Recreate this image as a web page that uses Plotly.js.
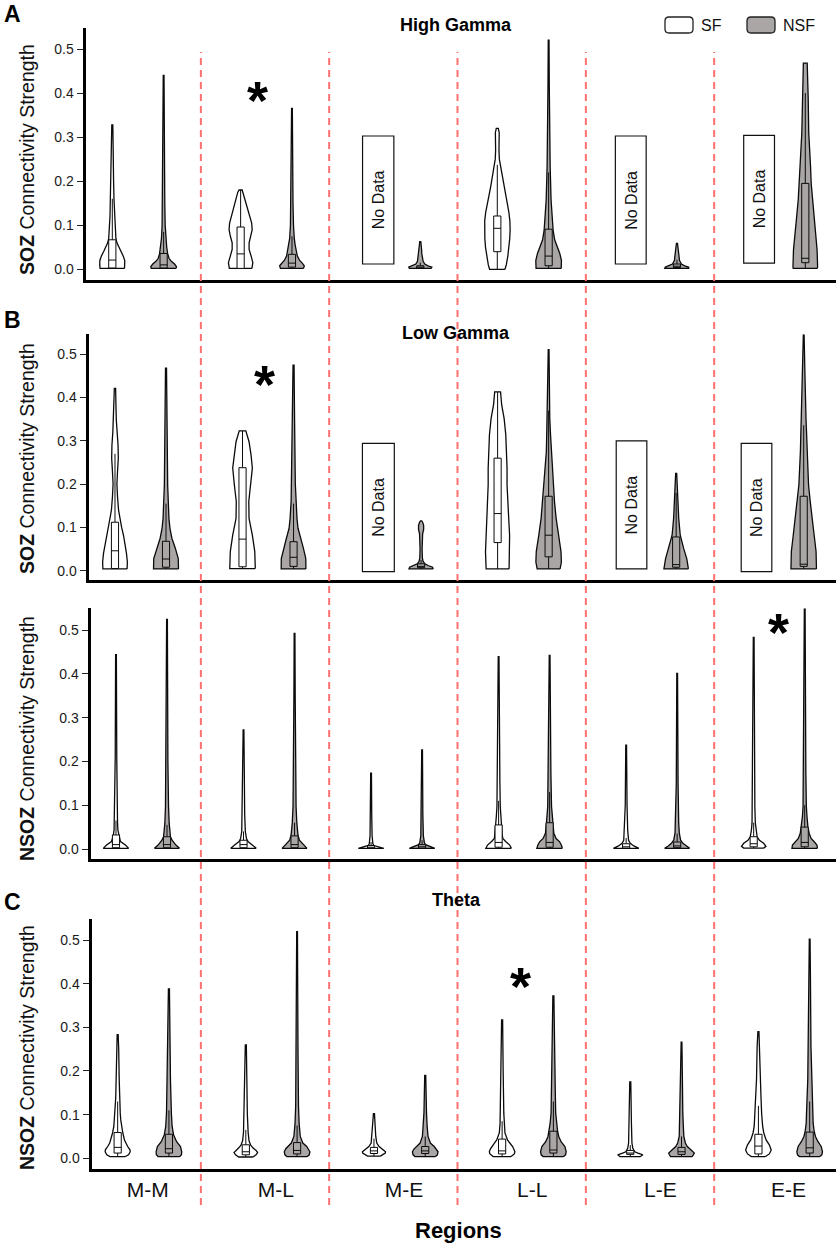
<!DOCTYPE html>
<html><head><meta charset="utf-8">
<script src="https://cdn.plot.ly/plotly-3.0.1.min.js"></script>
<style>html,body{margin:0;padding:0;background:#fff}#chart{width:837px;height:1243px}</style>
</head><body><div id="chart"></div>
<script>
// ---------------- DATA ----------------
const regions = ['M-M', 'M-L', 'M-E', 'L-L', 'L-E', 'E-E'];
const yTicks = [0, 0.1, 0.2, 0.3, 0.4, 0.5];
const yTickText = ['0.0', '0.1', '0.2', '0.3', '0.4', '0.5'];

// box statistics per region: [q1, median, q3, whiskerLow, whiskerHigh]; null = No Data
// violin outline per region: [[value, relative half-width], ...]

// A: High Gamma, SOZ
const hgSF_stats = [
  [0.003, 0.021, 0.067, 0.002, 0.16],
  [0.002, 0.035, 0.096, 0.002, 0.18],
  null,
  [0.04, 0.093, 0.121, 0.0, 0.237],
  null,
  null];
const hgSF_shape = [
  [[0.002,0.95],[0.01,0.98],[0.02,0.97],[0.03,0.85],[0.04,0.68],[0.05,0.5],[0.06,0.36],[0.07,0.28],[0.09,0.24],[0.12,0.18],[0.16,0.13],[0.2,0.1],[0.25,0.08],[0.3,0.06],[0.328,0.04]],
  [[0.002,0.88],[0.015,0.95],[0.03,0.82],[0.045,0.66],[0.06,0.66],[0.075,0.8],[0.09,0.9],[0.105,0.86],[0.12,0.72],[0.14,0.52],[0.16,0.36],[0.175,0.22],[0.18,0.12]],
  null,
  [[0.0,0.6],[0.01,0.7],[0.03,0.82],[0.05,0.92],[0.07,0.97],[0.09,1.0],[0.11,0.98],[0.13,0.9],[0.15,0.78],[0.17,0.63],[0.19,0.5],[0.21,0.38],[0.23,0.26],[0.25,0.16],[0.27,0.13],[0.29,0.13],[0.31,0.15],[0.32,0.08]],
  null,
  null];
const hgNSF_stats = [
  [0.003, 0.01, 0.036, 0.002, 0.085],
  [0.005, 0.014, 0.034, 0.002, 0.075],
  [0.003, 0.005, 0.008, 0.002, 0.015],
  [0.008, 0.03, 0.091, 0.002, 0.22],
  [0.004, 0.007, 0.012, 0.002, 0.022],
  [0.015, 0.025, 0.195, 0.002, 0.40]];
const hgNSF_shape = [
  [[0.002,0.97],[0.006,1.0],[0.012,0.85],[0.018,0.6],[0.025,0.42],[0.035,0.32],[0.05,0.24],[0.07,0.17],[0.1,0.12],[0.15,0.09],[0.2,0.07],[0.3,0.05],[0.44,0.03]],
  [[0.002,0.9],[0.008,0.96],[0.014,0.8],[0.02,0.6],[0.03,0.42],[0.04,0.33],[0.055,0.25],[0.07,0.18],[0.1,0.12],[0.15,0.08],[0.2,0.06],[0.3,0.04],[0.365,0.03]],
  [[0.002,0.85],[0.005,0.9],[0.008,0.6],[0.012,0.35],[0.018,0.22],[0.025,0.16],[0.035,0.12],[0.045,0.1],[0.055,0.07],[0.063,0.04]],
  [[0.002,0.98],[0.02,1.0],[0.036,0.87],[0.052,0.67],[0.067,0.47],[0.089,0.35],[0.12,0.27],[0.158,0.19],[0.233,0.12],[0.31,0.08],[0.42,0.05],[0.52,0.03]],
  [[0.002,0.95],[0.005,0.9],[0.008,0.6],[0.012,0.35],[0.02,0.2],[0.03,0.14],[0.045,0.1],[0.059,0.04]],
  [[0.002,0.94],[0.006,0.96],[0.044,0.92],[0.082,0.8],[0.12,0.67],[0.158,0.55],[0.195,0.46],[0.233,0.41],[0.31,0.27],[0.385,0.23],[0.44,0.18],[0.468,0.15]]];

// B: Low Gamma, SOZ
const lgSF_stats = [
  [0.005, 0.046, 0.112, 0.004, 0.27],
  [0.009, 0.073, 0.238, 0.005, 0.323],
  null,
  [0.065, 0.132, 0.26, 0.004, 0.413],
  null,
  null];
const lgSF_shape = [
  [[0.004,0.95],[0.02,0.97],[0.04,0.9],[0.06,0.8],[0.08,0.68],[0.1,0.52],[0.12,0.4],[0.14,0.28],[0.17,0.2],[0.2,0.15],[0.23,0.2],[0.26,0.26],[0.29,0.24],[0.32,0.17],[0.35,0.1],[0.39,0.07],[0.421,0.05]],
  [[0.005,1.0],[0.044,0.96],[0.082,0.77],[0.121,0.51],[0.16,0.49],[0.198,0.64],[0.237,0.77],[0.267,0.67],[0.298,0.51],[0.323,0.26]],
  null,
  [[0.004,0.9],[0.044,0.95],[0.082,0.94],[0.121,0.87],[0.16,0.79],[0.198,0.74],[0.237,0.74],[0.275,0.71],[0.314,0.64],[0.352,0.51],[0.383,0.32],[0.413,0.23]],
  null,
  null];
const lgNSF_stats = [
  [0.008, 0.027, 0.068, 0.004, 0.155],
  [0.01, 0.031, 0.067, 0.004, 0.155],
  [0.007, 0.01, 0.016, 0.004, 0.025],
  [0.032, 0.082, 0.172, 0.004, 0.37],
  [0.008, 0.014, 0.078, 0.004, 0.18],
  [0.01, 0.015, 0.172, 0.004, 0.336]];
const lgNSF_shape = [
  [[0.004,0.98],[0.028,0.96],[0.052,0.73],[0.075,0.46],[0.098,0.31],[0.121,0.23],[0.198,0.13],[0.35,0.08],[0.468,0.04]],
  [[0.004,0.97],[0.028,0.96],[0.052,0.77],[0.075,0.56],[0.098,0.35],[0.121,0.27],[0.16,0.19],[0.2,0.14],[0.35,0.08],[0.475,0.04]],
  [[0.004,0.95],[0.008,0.9],[0.012,0.55],[0.016,0.3],[0.022,0.15],[0.03,0.1],[0.05,0.08],[0.07,0.08],[0.085,0.12],[0.095,0.2],[0.105,0.2],[0.112,0.12],[0.115,0.05]],
  [[0.004,0.9],[0.02,1.0],[0.044,0.97],[0.082,0.77],[0.121,0.59],[0.16,0.46],[0.198,0.38],[0.237,0.28],[0.275,0.18],[0.314,0.15],[0.352,0.09],[0.43,0.06],[0.511,0.03]],
  [[0.004,0.96],[0.028,0.83],[0.052,0.58],[0.082,0.32],[0.121,0.2],[0.16,0.12],[0.198,0.08],[0.225,0.04]],
  [[0.004,1.0],[0.044,0.97],[0.082,0.82],[0.121,0.64],[0.16,0.51],[0.198,0.38],[0.275,0.26],[0.352,0.18],[0.45,0.1],[0.545,0.03]]];

// B (lower): Low Gamma, NSOZ
const lgnSF_stats = [
  [0.003, 0.01, 0.032, 0.0015, 0.065],
  [0.003, 0.01, 0.02, 0.0015, 0.04],
  [0.002, 0.004, 0.008, 0.0015, 0.016],
  [0.004, 0.015, 0.055, 0.0015, 0.11],
  [0.002, 0.005, 0.012, 0.0015, 0.025],
  [0.005, 0.012, 0.028, 0.002, 0.06]];
const lgnSF_shape = [
  [[0.0015,1.0],[0.009,0.74],[0.017,0.35],[0.03,0.22],[0.043,0.15],[0.059,0.12],[0.097,0.09],[0.21,0.06],[0.444,0.03]],
  [[0.0015,1.0],[0.009,0.7],[0.017,0.35],[0.024,0.23],[0.04,0.14],[0.08,0.09],[0.15,0.06],[0.272,0.03]],
  [[0.0015,1.0],[0.005,0.6],[0.008,0.23],[0.012,0.14],[0.03,0.08],[0.08,0.05],[0.173,0.03]],
  [[0.0015,1.0],[0.009,0.87],[0.017,0.55],[0.024,0.33],[0.036,0.27],[0.055,0.23],[0.074,0.18],[0.097,0.13],[0.15,0.1],[0.21,0.08],[0.439,0.03]],
  [[0.0015,1.0],[0.007,0.6],[0.013,0.32],[0.02,0.19],[0.043,0.12],[0.1,0.07],[0.237,0.03]],
  [[0.002,0.78],[0.006,0.96],[0.013,0.78],[0.02,0.45],[0.028,0.27],[0.043,0.18],[0.059,0.13],[0.097,0.09],[0.2,0.06],[0.483,0.03]]];
const lgnNSF_stats = [
  [0.003, 0.01, 0.028, 0.0015, 0.055],
  [0.003, 0.01, 0.03, 0.0015, 0.06],
  [0.002, 0.005, 0.01, 0.0015, 0.02],
  [0.004, 0.015, 0.06, 0.0015, 0.13],
  [0.003, 0.007, 0.016, 0.0015, 0.035],
  [0.005, 0.015, 0.05, 0.0015, 0.1]];
const lgnNSF_shape = [
  [[0.0015,0.98],[0.009,0.7],[0.02,0.4],[0.028,0.27],[0.059,0.17],[0.097,0.12],[0.2,0.07],[0.35,0.05],[0.524,0.03]],
  [[0.0015,0.98],[0.009,0.73],[0.02,0.38],[0.032,0.27],[0.059,0.18],[0.097,0.12],[0.2,0.07],[0.35,0.05],[0.492,0.03]],
  [[0.0015,1.0],[0.006,0.62],[0.01,0.27],[0.015,0.18],[0.03,0.1],[0.08,0.06],[0.226,0.03]],
  [[0.0015,1.0],[0.009,0.92],[0.017,0.77],[0.024,0.51],[0.036,0.33],[0.059,0.25],[0.097,0.15],[0.173,0.1],[0.3,0.06],[0.442,0.03]],
  [[0.0015,0.98],[0.007,0.7],[0.013,0.45],[0.02,0.27],[0.036,0.17],[0.059,0.12],[0.15,0.07],[0.401,0.03]],
  [[0.0015,1.0],[0.009,0.96],[0.017,0.73],[0.024,0.5],[0.036,0.35],[0.051,0.25],[0.074,0.18],[0.097,0.13],[0.173,0.09],[0.35,0.05],[0.548,0.03]]];

// C: Theta, NSOZ
const thSF_stats = [
  [0.012, 0.025, 0.059, 0.004, 0.13],
  [0.008, 0.015, 0.031, 0.003, 0.065],
  [0.011, 0.017, 0.025, 0.005, 0.045],
  [0.01, 0.017, 0.044, 0.004, 0.085],
  [0.009, 0.012, 0.018, 0.004, 0.03],
  [0.01, 0.028, 0.055, 0.004, 0.12]];
const thSF_shape = [
  [[0.004,0.6],[0.008,0.85],[0.015,0.98],[0.02,0.95],[0.027,0.78],[0.035,0.62],[0.042,0.53],[0.058,0.4],[0.073,0.3],[0.088,0.24],[0.104,0.2],[0.14,0.15],[0.18,0.12],[0.25,0.08],[0.283,0.04]],
  [[0.003,0.55],[0.008,0.8],[0.013,0.92],[0.018,0.8],[0.024,0.55],[0.03,0.38],[0.04,0.25],[0.06,0.18],[0.1,0.12],[0.15,0.09],[0.2,0.07],[0.26,0.04]],
  [[0.005,0.5],[0.008,0.7],[0.012,0.88],[0.015,0.9],[0.019,0.75],[0.027,0.4],[0.035,0.22],[0.05,0.14],[0.08,0.08],[0.102,0.04]],
  [[0.004,0.7],[0.01,0.95],[0.015,1.0],[0.021,0.92],[0.027,0.82],[0.035,0.6],[0.042,0.42],[0.058,0.22],[0.08,0.16],[0.104,0.13],[0.2,0.08],[0.317,0.04]],
  [[0.004,0.8],[0.008,0.98],[0.012,0.6],[0.015,0.35],[0.023,0.2],[0.035,0.13],[0.08,0.09],[0.175,0.04]],
  [[0.004,0.55],[0.01,0.85],[0.019,1.0],[0.031,0.85],[0.042,0.6],[0.058,0.42],[0.073,0.33],[0.088,0.27],[0.103,0.25],[0.141,0.2],[0.18,0.15],[0.256,0.1],[0.29,0.04]]];
const thNSF_stats = [
  [0.012, 0.022, 0.055, 0.004, 0.11],
  [0.01, 0.018, 0.036, 0.004, 0.075],
  [0.011, 0.017, 0.027, 0.004, 0.05],
  [0.012, 0.019, 0.062, 0.004, 0.13],
  [0.009, 0.015, 0.025, 0.004, 0.05],
  [0.012, 0.024, 0.06, 0.004, 0.13]];
const thNSF_shape = [
  [[0.004,0.85],[0.008,0.98],[0.015,1.0],[0.027,0.9],[0.038,0.6],[0.054,0.36],[0.073,0.25],[0.104,0.19],[0.18,0.12],[0.256,0.09],[0.388,0.04]],
  [[0.004,0.8],[0.008,0.95],[0.015,1.0],[0.022,0.88],[0.027,0.75],[0.035,0.45],[0.05,0.25],[0.08,0.16],[0.12,0.11],[0.25,0.07],[0.519,0.03]],
  [[0.004,0.8],[0.008,0.95],[0.015,1.0],[0.021,0.88],[0.027,0.7],[0.035,0.4],[0.05,0.22],[0.073,0.15],[0.104,0.1],[0.19,0.04]],
  [[0.004,0.8],[0.008,0.95],[0.015,1.0],[0.027,0.9],[0.038,0.6],[0.05,0.42],[0.062,0.33],[0.081,0.25],[0.104,0.18],[0.15,0.15],[0.2,0.12],[0.3,0.07],[0.372,0.04]],
  [[0.004,0.85],[0.008,0.95],[0.012,1.0],[0.019,0.75],[0.027,0.45],[0.035,0.3],[0.05,0.18],[0.08,0.13],[0.104,0.1],[0.2,0.06],[0.266,0.03]],
  [[0.004,0.8],[0.008,0.95],[0.015,1.0],[0.027,0.9],[0.038,0.65],[0.05,0.45],[0.062,0.35],[0.081,0.27],[0.103,0.25],[0.18,0.15],[0.256,0.1],[0.41,0.06],[0.502,0.03]]];

// significance markers: [region index (1-based, fractional), value]
const starA = [1.935, 0.411];
const starB = [1.976, 0.459];
const starB2 = [5.991, 0.523];
const starC = [3.947, 0.422];

// ---------------- LAYOUT / STYLE ----------------
const W = 837, H = 1243;
const FONT = 'Liberation Sans, Arial, Helvetica, sans-serif';
const SF_FILL = '#ffffff', NSF_FILL = '#aaa6a6', OUT = '#0a0a0a';
const HALF = 0.1;      // max violin half width (x units)
const BOXW = 0.028;    // box half width
const OFF = 0.2;       // group offset from region centre
const px = v => v / W, py = v => 1 - v / H;

const panels = [
  {id: '', title: 'High Gamma', titleY: 25, ylab: '<b>SOZ</b> Connectivity Strength', labY: 160, letter: 'A', letterY: 14,
   sf: [hgSF_stats, hgSF_shape], nsf: [hgNSF_stats, hgNSF_shape], star: starA,
   left: 85.5, right: 836, top: 28, bottom: 280.2, a: 137.97, b: 128.33, zero: 269.3, s: 440.6,
   noData: [[3, -0.25, -0.006, 0.012, 0.3025], [5, -0.28, -0.04, 0.012, 0.3025], [6, -0.28, -0.04, 0.014, 0.304]]},
  {id: '2', title: 'Low Gamma', titleY: 333, ylab: '<b>SOZ</b> Connectivity Strength', labY: 459, letter: 'B', letterY: 320,
   sf: [lgSF_stats, lgSF_shape], nsf: [lgNSF_stats, lgNSF_shape], star: starB,
   left: 88.5, right: 836, top: 334.3, bottom: 579.5, a: 140.5, b: 127.54, zero: 570.7, s: 432.8,
   noData: [[3, -0.26, -0.01, -0.002, 0.294], [5, -0.27, -0.03, 0.004, 0.300], [6, -0.29, -0.05, -0.002, 0.294]]},
  {id: '3', title: '', ylab: '<b>NSOZ</b> Connectivity Strength', labY: 739, letter: '',
   sf: [lgnSF_stats, lgnSF_shape], nsf: [lgnNSF_stats, lgnNSF_shape], star: starB2,
   left: 90.5, right: 836, top: 608.3, bottom: 859.2, a: 141.5, b: 127.54, zero: 849, s: 438, noData: []},
  {id: '4', title: 'Theta', titleY: 900, ylab: '<b>NSOZ</b> Connectivity Strength', labY: 1048, letter: 'C', letterY: 902,
   sf: [thSF_stats, thSF_shape], nsf: [thNSF_stats, thNSF_shape], star: starC,
   left: 91.5, right: 836, top: 919, bottom: 1169.2, a: 143.3, b: 128.15, zero: 1158.3, s: 436.6, noData: []}
];

const traces = [];
const layout = {
  width: W, height: H, margin: {l: 0, r: 0, t: 0, b: 0},
  paper_bgcolor: '#fff', plot_bgcolor: 'rgba(0,0,0,0)', showlegend: false,
  font: {family: FONT, color: '#111'},
  shapes: [], annotations: []
};

function violinTraces(p, stats, shape, dx, fill) {
  const xa = 'x' + p.id, ya = 'y' + p.id;
  const viol = [], whisk = [], boxes = [], meds = [];
  regions.forEach((r, i) => {
    const prof = shape[i], st = stats[i];
    if (!prof || !st) return;
    const c = i + 1 + dx;
    const xs = [], ys = [];
    prof.forEach(([v, w]) => { xs.push(c + w * HALF); ys.push(v); });
    for (let k = prof.length - 1; k >= 0; k--) { xs.push(c - prof[k][1] * HALF); ys.push(prof[k][0]); }
    xs.push(xs[0]); ys.push(ys[0]);
    viol.push({type: 'scatter', mode: 'lines', x: xs, y: ys, xaxis: xa, yaxis: ya, fill: 'toself',
      fillcolor: fill, line: {color: OUT, width: 1.3}, hoverinfo: 'skip'});
    const [q1, med, q3, lo, hi] = st;
    whisk.push({type: 'scatter', mode: 'lines', x: [c, c, null, c, c], y: [lo, q1, null, q3, hi], xaxis: xa, yaxis: ya,
      line: {color: OUT, width: 1}, hoverinfo: 'skip'});
    boxes.push({type: 'scatter', mode: 'lines', x: [c - BOXW, c + BOXW, c + BOXW, c - BOXW, c - BOXW],
      y: [q1, q1, q3, q3, q1], xaxis: xa, yaxis: ya, fill: 'toself', fillcolor: fill,
      line: {color: OUT, width: 1}, hoverinfo: 'skip'});
    meds.push({type: 'scatter', mode: 'lines', x: [c - BOXW, c + BOXW], y: [med, med], xaxis: xa, yaxis: ya,
      line: {color: OUT, width: 1}, hoverinfo: 'skip'});
  });
  return {viol, whisk, boxes, meds};
}

panels.forEach(p => {
  const A = violinTraces(p, p.sf[0], p.sf[1], -OFF, SF_FILL);
  const B = violinTraces(p, p.nsf[0], p.nsf[1], OFF, NSF_FILL);
  traces.push(...A.viol, ...B.viol, ...A.whisk, ...B.whisk, ...A.boxes, ...B.boxes, ...A.meds, ...B.meds);

  const xr = [1 + (p.left - p.a) / p.b, 1 + (p.right - p.a) / p.b];
  const yr = [(p.zero - p.bottom) / p.s, (p.zero - p.top) / p.s];
  const isC = p.id === '4';
  layout['xaxis' + p.id] = {
    domain: [px(p.left), px(p.right)], range: xr, anchor: 'y' + p.id,
    showline: true, linewidth: 3, linecolor: '#000', showgrid: false, zeroline: false, ticks: '',
    showticklabels: isC,
    tickmode: 'array', tickvals: regions.map((r, i) => i + 1.035), ticktext: regions,
    tickfont: {size: 21, color: '#111', family: FONT}, fixedrange: true
  };
  layout['yaxis' + p.id] = {
    domain: [py(p.bottom), py(p.top)], range: yr, anchor: 'x' + p.id,
    showline: true, linewidth: 3, linecolor: '#000', showgrid: false, zeroline: false,
    ticks: 'outside', ticklen: 6, tickwidth: 1, tickcolor: '#222',
    tickmode: 'array', tickvals: yTicks, ticktext: yTickText,
    tickfont: {size: 14, color: '#1a1a1a', family: FONT}, fixedrange: true
  };

  // No Data boxes
  p.noData.forEach(([ri, x0, x1, y0, y1]) => {
    layout.shapes.push({type: 'rect', xref: 'x' + p.id, yref: 'y' + p.id, x0: ri + x0, x1: ri + x1, y0: y0, y1: y1,
      line: {color: '#111', width: 1.2}, fillcolor: '#fff', layer: 'above'});
    layout.annotations.push({xref: 'x' + p.id, yref: 'y' + p.id, x: ri + (x0 + x1) / 2, y: (y0 + y1) / 2,
      text: 'No Data', textangle: -90, showarrow: false, font: {size: 16, color: '#111', family: FONT},
      xanchor: 'center', yanchor: 'middle'});
  });

  // titles, y labels, letters
  if (p.title) layout.annotations.push({xref: 'paper', yref: 'paper', x: px(456), y: py(p.titleY), text: '<b>' + p.title + '</b>',
    showarrow: false, font: {size: 18, color: '#000', family: FONT}, xanchor: 'center', yanchor: 'middle'});
  layout.annotations.push({xref: 'paper', yref: 'paper', x: px(27), y: py(p.labY), text: p.ylab, textangle: -90,
    showarrow: false, font: {size: 19.5, color: '#111', family: FONT}, xanchor: 'center', yanchor: 'middle'});
  if (p.letter) layout.annotations.push({xref: 'paper', yref: 'paper', x: px(12), y: py(p.letterY), text: '<b>' + p.letter + '</b>',
    showarrow: false, font: {size: 23, color: '#000', family: FONT}, xanchor: 'center', yanchor: 'middle'});
  // significance star
  layout.annotations.push({xref: 'x' + p.id, yref: 'y' + p.id, x: p.star[0], y: p.star[1], text: '<b>*</b>',
    showarrow: false, font: {size: 54, color: '#000', family: FONT}, xanchor: 'center', yanchor: 'middle', yshift: -12});
});

// dashed region separators (absolute, spanning all panels)
for (let k = 1; k < regions.length; k++) {
  layout.shapes.push({type: 'line', xref: 'x', yref: 'paper', x0: k + 0.49, x1: k + 0.49, y0: py(1205), y1: py(52),
    line: {color: '#ff7070', width: 2, dash: '7px,5px'}, layer: 'above'});
}

// x axis title
layout.annotations.push({xref: 'paper', yref: 'paper', x: px(459), y: py(1230), text: '<b>Regions</b>', showarrow: false,
  font: {size: 22, color: '#000', family: FONT}, xanchor: 'center', yanchor: 'middle'});

// legend (SF / NSF) as rounded boxes
function rrect(x0, y0, x1, y1, r) {
  const X = v => px(v).toFixed(5), Y = v => py(v).toFixed(5);
  return `M ${X(x0 + r)} ${Y(y0)} L ${X(x1 - r)} ${Y(y0)} Q ${X(x1)} ${Y(y0)} ${X(x1)} ${Y(y0 + r)} ` +
    `L ${X(x1)} ${Y(y1 - r)} Q ${X(x1)} ${Y(y1)} ${X(x1 - r)} ${Y(y1)} L ${X(x0 + r)} ${Y(y1)} ` +
    `Q ${X(x0)} ${Y(y1)} ${X(x0)} ${Y(y1 - r)} L ${X(x0)} ${Y(y0 + r)} Q ${X(x0)} ${Y(y0)} ${X(x0 + r)} ${Y(y0)} Z`;
}
const legendItems = [['SF', SF_FILL, 665], ['NSF', NSF_FILL, 747]];
legendItems.forEach(([name, fill, x0]) => {
  layout.shapes.push({type: 'path', xref: 'paper', yref: 'paper', path: rrect(x0, 17, x0 + 28, 33, 4),
    fillcolor: fill, line: {color: '#222', width: 1.3}});
  layout.annotations.push({xref: 'paper', yref: 'paper', x: px(x0 + 34), y: py(25), text: name, showarrow: false,
    font: {size: 16, color: '#111', family: FONT}, xanchor: 'left', yanchor: 'middle'});
});

Plotly.newPlot('chart', traces, layout, {displayModeBar: false, staticPlot: true});
</script></body></html>
